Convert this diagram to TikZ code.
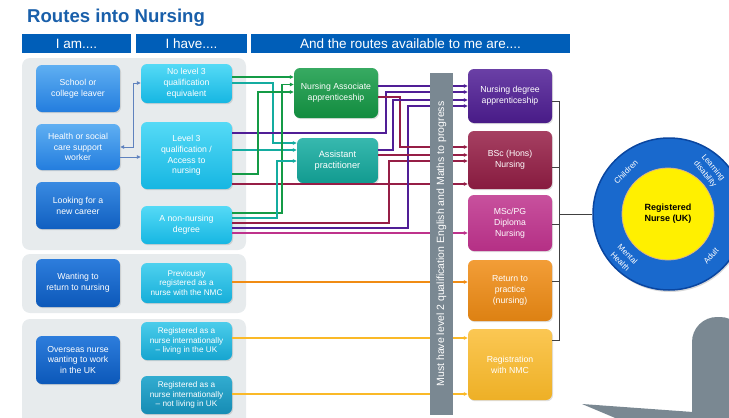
\documentclass[tikz,border=0pt]{standalone}
\usepackage{fontspec}
\setmainfont{Liberation Sans}
\usetikzlibrary{arrows.meta,shadows}

\definecolor{titleblue}{RGB}{25,95,170}
\definecolor{hdrblue}{RGB}{0,94,184}
\definecolor{panelgray}{RGB}{231,235,237}
\definecolor{bargray}{RGB}{122,136,146}
\definecolor{iamtop}{RGB}{95,175,242}
\definecolor{iambot}{RGB}{35,125,222}
\definecolor{iamdtop}{RGB}{45,125,220}
\definecolor{iamdbot}{RGB}{12,88,185}
\definecolor{havetop}{RGB}{85,218,246}
\definecolor{havebot}{RGB}{22,182,226}
\definecolor{havedtop}{RGB}{50,172,208}
\definecolor{havedbot}{RGB}{22,140,180}
\definecolor{cgreen}{RGB}{20,155,70}
\definecolor{cteal}{RGB}{20,172,160}
\definecolor{cpurple}{RGB}{80,30,150}
\definecolor{ccrimson}{RGB}{150,30,70}
\definecolor{cmagenta}{RGB}{190,50,140}
\definecolor{corange}{RGB}{240,140,20}
\definecolor{cyellow}{RGB}{250,185,40}
\definecolor{csteel}{RGB}{95,130,190}
\definecolor{ringblue}{RGB}{25,105,205}
\definecolor{ringedge}{RGB}{10,70,160}
\definecolor{nurseyellow}{RGB}{255,240,0}

\begin{document}
\begin{tikzpicture}[x=1pt,y=-1pt,
  hdr/.style={fill=hdrblue,text=white,minimum height=19pt,inner sep=0pt,
    font=\fontsize{13.5}{15}\selectfont},
  panel/.style={fill=panelgray,rounded corners=8pt},
  box/.style={rounded corners=6pt,text=white,align=center,inner sep=1pt,
    drop shadow={opacity=0.25,shadow xshift=1pt,shadow yshift=-1.2pt},
    font=\fontsize{8.7}{10.8}\selectfont},
  iam/.style={box,minimum width=84pt,top color=iamtop,bottom color=iambot},
  iamdark/.style={box,minimum width=84pt,top color=iamdtop,bottom color=iamdbot},
  have/.style={box,minimum width=91pt,top color=havetop,bottom color=havebot},
  havedark/.style={box,minimum width=91pt,top color=havedtop,bottom color=havedbot,
    font=\fontsize{8.2}{9.6}\selectfont},
  route/.style={box,minimum width=84pt},
  lnk/.style={line width=1.1pt,-{Triangle[length=4pt,width=3.6pt]}},
  brk/.style={line width=0.8pt,black!75},
  ringlbl/.style={text=white,align=center,inner sep=0pt,font=\fontsize{8}{10.5}\selectfont}]

\useasboundingbox (0,0) rectangle (729,418);

% title and column headings
\node[anchor=west,inner sep=0pt,text=titleblue,font=\bfseries\fontsize{18.6}{20}\selectfont]
  (title) at (27,18) {Routes into Nursing};
\node[hdr,minimum width=109pt] (hdram) at (76.5,43.5) {I am....};
\node[hdr,minimum width=111pt] (hdrhave) at (191.5,43.5) {I have....};
\node[hdr,minimum width=319pt] (hdrroutes) at (410.5,43.5) {And the routes available to me are....};

% grey panels
\fill[panel] (22,58) rectangle (246,250);
\fill[panel] (22,254) rectangle (246,313);
\fill[panel] (22,319) rectangle (246,430);

% I am
\node[iam,minimum height=47pt] (school) at (78,88.5) {School or\\college leaver};
\node[iam,minimum height=46pt] (health) at (78,147) {Health or social\\care support\\worker};
\node[iamdark,minimum height=47pt,top color=iambot!90!white,bottom color=iamdbot!80!iambot] (career) at (78,205.5) {Looking for a\\new career};
\node[iamdark,minimum height=48pt] (wantret) at (78,283) {Wanting to\\return to nursing};
\node[iamdark,minimum height=48pt] (overseas) at (78,360) {Overseas nurse\\wanting to work\\in the UK};

% I have
\node[have,minimum height=39pt] (nolvl3) at (186.5,83.5) {No level 3\\qualification\\equivalent};
\node[have,minimum height=67pt] (lvl3) at (186.5,155.5) {Level 3\\qualification /\\Access to\\nursing};
\node[have,minimum height=38pt] (degree) at (186.5,225) {A non-nursing\\degree};
\node[havedark,minimum height=40pt,top color=havetop!80!havedtop,bottom color=havebot!80!havedbot] (prevreg) at (186.5,283) {Previously\\registered as a\\nurse with the NMC};
\node[havedark,minimum height=38pt,top color=havetop!70!havedtop,bottom color=havebot!60!havedbot] (intlive) at (186.5,341) {Registered as a\\nurse internationally\\-- living in the UK};
\node[havedark,minimum height=38pt] (intaway) at (186.5,395) {Registered as a\\nurse internationally\\-- not living in UK};

% routes
\node[route,minimum height=50pt,top color=cgreen!85!white,bottom color=cgreen!90!black] (naa) at (336,93) {Nursing Associate\\apprenticeship};
\node[route,minimum width=81pt,minimum height=45pt,top color=cteal!85!white,bottom color=cteal!90!black,font=\fontsize{9.2}{11.5}\selectfont] (ap) at (337.5,160.5) {Assistant\\practitioner};
\node[route,minimum height=54pt,top color=cpurple!85!white,bottom color=cpurple!90!black] (nda) at (510,96) {Nursing degree\\apprenticeship};
\node[route,minimum height=58pt,top color=ccrimson!85!white,bottom color=ccrimson!90!black] (bsc) at (510,160) {BSc (Hons)\\Nursing};
\node[route,minimum height=56pt,top color=cmagenta!85!white,bottom color=cmagenta!95!black] (msc) at (510,223) {MSc/PG\\Diploma\\Nursing};
\node[route,minimum height=61pt,top color=corange!85!white,bottom color=corange!92!black] (rtp) at (510,290.5) {Return to\\practice\\(nursing)};
\node[route,minimum height=71pt,top color=cyellow!80!white,bottom color=cyellow!95!black] (rnmc) at (510,364.5) {Registration\\with NMC};

% routes in
\draw[lnk,line width=0.9pt,csteel,{Triangle[length=4pt,width=3.6pt]}-{Triangle[length=4pt,width=3.6pt]}]
  (health.east |- 0,147) -| (133,83) -- (nolvl3.west |- 0,83);
\draw[lnk,line width=0.9pt,csteel] (health.east |- 0,157) -- (lvl3.west |- 0,157);

\draw[lnk,cgreen] (nolvl3.east |- 0,77) -- (naa.west |- 0,77);
\draw[lnk,cteal] (nolvl3.east |- 0,83) -| (273,143) -- (ap.west |- 0,143);
\draw[lnk,cpurple] (lvl3.east |- 0,133) -| (386,92) -- (nda.west |- 0,92);
\draw[lnk,cteal] (lvl3.east |- 0,150) -- (ap.west |- 0,150);
\draw[lnk,cgreen] (lvl3.east |- 0,174) -| (258,92) -- (naa.west |- 0,92);
\draw[lnk,ccrimson] (lvl3.east |- 0,184) -- (bsc.west |- 0,184);
\draw[lnk,cgreen] (degree.east |- 0,213) -| (282,84.5) -- (naa.west |- 0,84.5);
\draw[lnk,cteal] (degree.east |- 0,218) -| (277,161) -- (ap.west |- 0,161);
\draw[lnk,ccrimson] (degree.east |- 0,223) -| (389,161) -- (bsc.west |- 0,161);
\draw[lnk,cpurple] (degree.east |- 0,228) -| (408,106) -- (nda.west |- 0,106);
\draw[lnk,cmagenta] (degree.east |- 0,233) -- (msc.west |- 0,233);
\draw[lnk,cpurple] (naa.east |- 0,86) -- (nda.west |- 0,86);
\draw[lnk,ccrimson] (naa.east |- 0,97) -| (400,147) -- (bsc.west |- 0,147);
\draw[lnk,cpurple] (ap.east |- 0,150) -| (393,100) -- (nda.west |- 0,100);
\draw[lnk,ccrimson] (ap.east |- 0,155) -- (bsc.west |- 0,155);
\draw[lnk,corange] (prevreg.east |- 0,282) -- (rtp.west |- 0,282);
\draw[lnk,cyellow] (intlive.east |- 0,338) -- (rnmc.west |- 0,338);
\draw[lnk,cyellow] (intaway.east |- 0,394) -- (rnmc.west |- 0,394);

% level 2 bar
\node[fill=bargray,rotate=90,minimum width=342pt,minimum height=23pt,inner sep=0pt,
  text=white,font=\fontsize{10.5}{12}\selectfont] (lvl2) at (441.5,244)
  {Must have level 2 qualification English and Maths to progress};

% registered nurse
\node[circle,fill=ringblue,draw=ringedge,line width=1.5pt,minimum size=152pt,inner sep=0pt,
  drop shadow={opacity=0.3,shadow xshift=1pt,shadow yshift=-2pt}] (ring) at (669,214) {};
\node[circle,fill=nurseyellow,draw=brown!60,line width=0.8pt,minimum size=92pt,inner sep=0pt,
  align=center,font=\bfseries\fontsize{9}{11}\selectfont] (rnurse) at (668,214) {Registered\\Nurse (UK)};
\node[ringlbl,rotate=45] (children) at (626,172) {Children};
\node[ringlbl,rotate=-50] (learning) at (709,171) {Learning\\disability};
\node[ringlbl,rotate=-45] (mental) at (624,258) {Mental\\Health};
\node[ringlbl,rotate=48] (adult) at (711,256) {Adult};

% bracket to the nurse
\coordinate (brtop) at (559,101);
\coordinate (brbot) at (559,340);
\coordinate (brj) at (559,214);
\draw[brk] (nda.east |- brtop) -- (brtop) -- (brbot) -- (rnmc.east |- brbot);
\draw[brk] (bsc.east |- 0,167) -- (brtop |- 0,167);
\draw[brk] (msc.east |- 0,224) -- (brtop |- 0,224);
\draw[brk] (rtp.east |- 0,281) -- (brtop |- 0,281);
\draw[brk,line width=1pt] (brj) -- (ring.west);

% grey corner
\fill[bargray,rounded corners=25pt] (692,460) -- (692,317) -- (745,317) -- (745,460) -- cycle;
\fill[bargray] (582,404) -- (693,412) -- (693,420) -- (620,420) -- cycle;
\end{tikzpicture}
\end{document}
